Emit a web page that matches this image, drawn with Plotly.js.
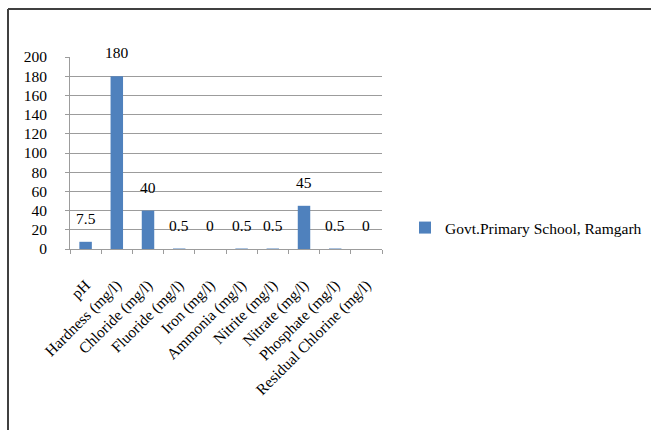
<!DOCTYPE html>
<html>
<head>
<meta charset="utf-8">
<script src="https://cdn.plot.ly/plotly-3.0.1.min.js"></script>
<style>html,body{margin:0;padding:0;background:#fff;overflow:hidden;}#chart{width:651px;height:430px;}</style>
</head>
<body>
<div id="chart"></div>
<script>
var categories = ["pH", "Hardness (mg/l)", "Chloride (mg/l)", "Fluoride (mg/l)", "Iron (mg/l)", "Ammonia (mg/l)", "Nitrite (mg/l)", "Nitrate (mg/l)", "Phosphate (mg/l)", "Residual Chlorine (mg/l)"];
var values = [7.5, 180, 40, 0.5, 0, 0.5, 0.5, 45, 0.5, 0];
var seriesName = "Govt.Primary School, Ramgarh";
var yTicks = [0, 20, 40, 60, 80, 100, 120, 140, 160, 180, 200];

var W = 651, H = 430;
var L = 70, R = 269, T = 57, B = 181;
var pw = W - L - R, ph = H - T - B;
function px(x){return (x - L) / pw;}
function py(y){return (H - B - y) / ph;}

var trace = {
  type: 'bar',
  x: categories,
  y: values,
  name: seriesName,
  marker: {color: '#4f81bd'},
  cliponaxis: false,
  showlegend: true
};

var labels = categories.map(function (c, i) {
  return {
    x: c, y: values[i], xref: 'x', yref: 'y',
    text: String(values[i]), showarrow: false,
    yanchor: 'bottom', yshift: 13,
    font: {family: 'Liberation Serif', size: 15.5, color: '#000'}
  };
});

var gridCol = '#9c9c9c';

var layout = {
  width: W, height: H,
  margin: {l: L, r: R, t: T, b: B, pad: 0, autoexpand: false},
  paper_bgcolor: '#fff', plot_bgcolor: '#fff',
  font: {family: 'Liberation Serif', size: 15, color: '#000'},
  bargap: 0.6,
  showlegend: true,
  legend: {xref: 'container', yref: 'container', x: 405 / W, y: 1 - 228 / H, xanchor: 'left', yanchor: 'middle', itemwidth: 30,
           font: {family: 'Liberation Serif', size: 15.5, color: '#000'}, bgcolor: 'rgba(0,0,0,0)'},
  xaxis: {
    type: 'category',
    tickangle: -45,
    ticks: 'outside', tickson: 'boundaries', ticklen: 4, tickcolor: gridCol,
    ticklabelstandoff: 20,
    showline: true, linecolor: gridCol, linewidth: 1,
    showgrid: false,
    tickfont: {family: 'Liberation Serif', size: 15.5, color: '#000'}
  },
  yaxis: {
    range: [0, 200],
    tickvals: yTicks,
    ticktext: yTicks.map(String),
    ticks: 'outside', ticklen: 4, tickcolor: gridCol,
    ticklabelstandoff: 15,
    showline: true, linecolor: gridCol, linewidth: 1,
    showgrid: true, gridcolor: gridCol, gridwidth: 1,
    zeroline: false,
    tickfont: {family: 'Liberation Serif', size: 15.5, color: '#000'}
  },
  annotations: labels,
  shapes: [
    {type: 'line', xref: 'paper', yref: 'paper', x0: px(8), x1: px(651), y0: py(9), y1: py(9), line: {color: '#404040', width: 2}},
    {type: 'line', xref: 'paper', yref: 'paper', x0: px(8), x1: px(8), y0: py(9), y1: py(430), line: {color: '#404040', width: 2}}
  ]
};

Plotly.newPlot('chart', [trace], layout, {displayModeBar: false, staticPlot: true});
</script>
</body>
</html>
